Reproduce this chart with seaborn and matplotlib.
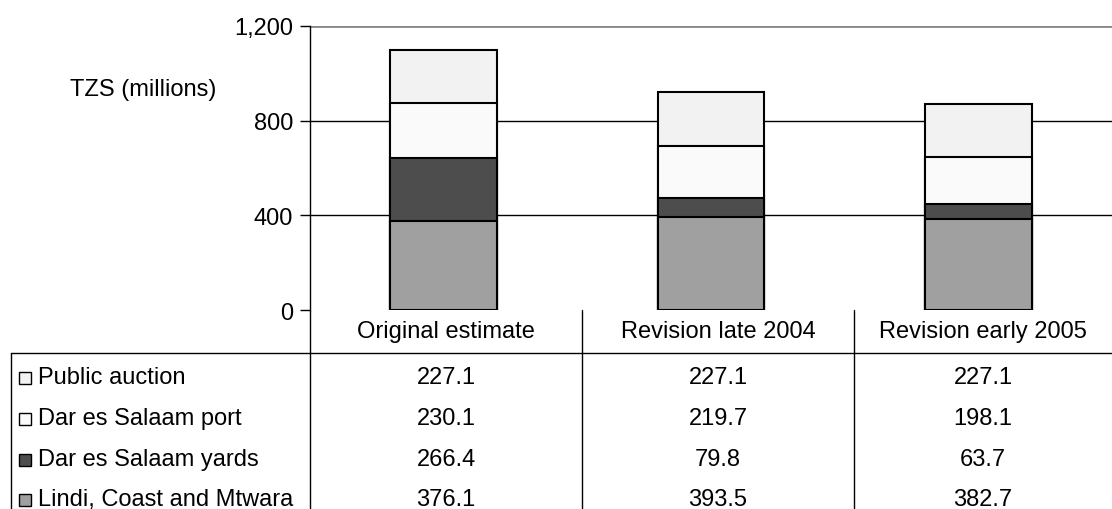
import numpy as np
import pandas as pd
import matplotlib
matplotlib.use("Agg")
import matplotlib.pyplot as plt
import seaborn as sns
from matplotlib.lines import Line2D
from matplotlib.patches import Rectangle

# Data (TZS millions)
scenarios = ["Original estimate", "Revision late 2004", "Revision early 2005"]
series = ["Public auction", "Dar es Salaam port", "Dar es Salaam yards", "Lindi, Coast and Mtwara"]
public_auction = [227.1, 227.1, 227.1]
dsm_port = [230.1, 219.7, 198.1]
dsm_yards = [266.4, 79.8, 63.7]
lindi_coast_mtwara = [376.1, 393.5, 382.7]
colors = ["#f2f2f2", "#fafafa", "#4d4d4d", "#a0a0a0"]
yticks = [0, 400, 800, 1200]

sns.set_style("white")
plt.rcParams["font.family"] = ["Liberation Sans", "DejaVu Sans"]
plt.rcParams["text.color"] = "black"
plt.rcParams["ytick.color"] = "black"
plt.rcParams["ytick.labelcolor"] = "black"

FS = 17
W, H = 1112, 510
fig = plt.figure(figsize=(W / 100, H / 100), dpi=100)

# axes area in pixels
x0, x1, ytop, ybot = 310, 1112, 27, 311
ax = fig.add_axes([x0 / W, 1 - ybot / H, (x1 - x0) / W, (ybot - ytop) / H])

df = pd.DataFrame({
    "scenario": scenarios,
    "Public auction": public_auction,
    "Dar es Salaam port": dsm_port,
    "Dar es Salaam yards": dsm_yards,
    "Lindi, Coast and Mtwara": lindi_coast_mtwara,
})

# stacked bars drawn as overlapping cumulative totals (top layer first)
for i, name in enumerate(series):
    cum = df[series[i:]].sum(axis=1)
    sns.barplot(x=df["scenario"], y=cum, color=colors[i], width=0.4,
                edgecolor="black", linewidth=1.5, saturation=1, ax=ax, zorder=3)

ax.set_ylim(0, 1200)
ax.set_xlim(-0.5, 2.5)
ax.set_yticks(yticks)
ax.set_yticklabels([f"{v:,}" for v in yticks], fontsize=FS)
ax.set_xticks([])
ax.set_xlabel("")
ax.set_ylabel("")
for v in yticks[1:3]:
    ax.axhline(v, color="black", linewidth=1, zorder=1)
ax.axhline(1200, color="#888888", linewidth=2, zorder=1)
for s in ["top", "right", "bottom"]:
    ax.spines[s].set_visible(False)
ax.spines["left"].set_color("black")
ax.spines["left"].set_linewidth(1)
ax.tick_params(axis="y", direction="out", length=7, width=1, pad=5, left=True)

fig.text(70 / W, 1 - 90 / H, "TZS (millions)", fontsize=FS, va="center", ha="left")

# data table below the chart
def px(x, y):
    return x / W, 1 - y / H

col_edges = [310, 582, 854, 1112]
hline_y = 354
fig.add_artist(Line2D([11 / W, 1], [1 - hline_y / H] * 2, color="black", lw=1))
for xe in col_edges[:3]:
    fig.add_artist(Line2D([xe / W] * 2, [1 - ybot / H, 0], color="black", lw=1))
fig.add_artist(Line2D([11 / W] * 2, [1 - hline_y / H, 0], color="black", lw=1))

for j, sc in enumerate(scenarios):
    cx = (col_edges[j] + col_edges[j + 1]) / 2
    fig.text(*px(cx, 332), sc, fontsize=FS, ha="center", va="center")

row_y = [378, 419, 460, 500]
rows = [public_auction, dsm_port, dsm_yards, lindi_coast_mtwara]
for r, (name, vals) in enumerate(zip(series, rows)):
    y = row_y[r]
    fig.add_artist(Rectangle(px(19, y + 7), 12 / W, 12 / H, facecolor=colors[r],
                             edgecolor="black", lw=1))
    fig.text(*px(38, y), name, fontsize=FS, ha="left", va="center")
    for j, v in enumerate(vals):
        cx = (col_edges[j] + col_edges[j + 1]) / 2
        fig.text(*px(cx, y), f"{v:.1f}", fontsize=FS, ha="center", va="center")

fig.savefig("out.png", dpi=100)
